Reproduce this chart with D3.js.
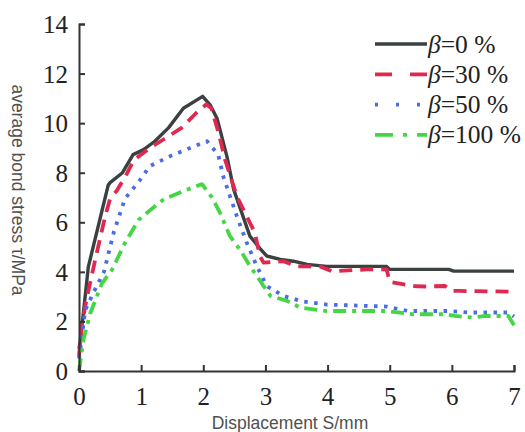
<!DOCTYPE html>
<html><head><meta charset="utf-8">
<script src="https://cdn.jsdelivr.net/npm/d3@7"></script>
<style>body{margin:0;background:#fff;}svg{display:block;}</style>
</head><body>
<script>
const xTicks = [0,1,2,3,4,5,6,7];
const yTicks = [0,2,4,6,8,10,12,14];
const seriesNames = ["0 %","30 %","50 %","100 %"];

const s0X = [0, 0.02, 0.06, 0.15, 0.47, 0.5, 0.7, 0.87, 1.04, 1.22, 1.44, 1.68, 1.99, 2.11, 2.22, 2.27, 2.38, 2.49, 2.62, 2.75, 2.91, 3.02, 3.24, 3.45, 3.67, 3.99, 4.95, 5.0, 5.95, 6.03, 7.0];
const s0Y = [0.9, 1.2, 2.1, 4.2, 7.5, 7.6, 8.0, 8.73, 8.93, 9.27, 9.81, 10.6, 11.08, 10.74, 10.2, 9.73, 8.66, 7.32, 6.38, 5.44, 4.95, 4.64, 4.5, 4.43, 4.3, 4.22, 4.22, 4.1, 4.1, 4.03, 4.03];

const s30X = [0, 0.05, 0.13, 0.26, 0.42, 0.5, 0.61, 0.77, 0.88, 1.14, 1.36, 1.65, 1.89, 2.05, 2.13, 2.24, 2.35, 2.54, 2.75, 2.83, 2.91, 2.97, 3.29, 3.5, 3.88, 4.07, 4.63, 4.95, 5.0, 5.36, 5.57, 5.89, 6.0, 6.11, 7.0];
const s30Y = [0.6, 1.93, 3.0, 4.48, 6.23, 6.95, 7.28, 7.96, 8.5, 9.0, 9.34, 9.81, 10.42, 10.76, 10.6, 9.67, 8.53, 7.05, 5.98, 5.58, 4.64, 4.37, 4.43, 4.22, 4.22, 4.02, 4.1, 4.1, 3.6, 3.43, 3.41, 3.43, 3.23, 3.23, 3.2];

const s50X = [0, 0.02, 0.1, 0.26, 0.4, 0.56, 0.74, 0.98, 1.14, 1.47, 1.79, 2.06, 2.24, 2.32, 2.43, 2.54, 2.7, 2.86, 3.02, 3.29, 3.61, 3.99, 4.95, 5.3, 5.97, 6.27, 6.91, 7.0];
const s50Y = [0.5, 0.85, 2.46, 3.3, 3.99, 5.6, 6.95, 7.7, 8.27, 8.67, 9.0, 9.27, 8.73, 7.86, 7.05, 6.25, 5.17, 4.24, 3.43, 3.03, 2.8, 2.68, 2.6, 2.42, 2.42, 2.36, 2.36, 2.2];

const s100X = [0, 0.07, 0.18, 0.37, 0.53, 0.74, 0.96, 1.15, 1.36, 1.68, 1.98, 2.14, 2.27, 2.43, 2.59, 2.75, 2.97, 3.08, 3.35, 3.56, 3.77, 3.99, 4.95, 5.36, 5.89, 6.05, 6.32, 6.54, 6.91, 7.0];
const s100Y = [0, 1.25, 2.32, 3.54, 4.08, 5.17, 6.1, 6.5, 6.92, 7.26, 7.54, 7.0, 6.38, 5.44, 4.9, 4.24, 3.43, 3.03, 2.83, 2.56, 2.49, 2.42, 2.42, 2.29, 2.29, 2.22, 2.16, 2.22, 2.22, 1.85];

const W = 525, H = 432;
const m = {left: 79, right: 11, top: 24, bottom: 61};

const svg = d3.select("body").append("svg").attr("width", W).attr("height", H);

const x = d3.scaleLinear().domain([0,7]).range([m.left, W - m.right]);
const y = d3.scaleLinear().domain([0,14]).range([H - m.bottom, m.top]);

const series = [
  {name: seriesNames[0], xs: s0X, ys: s0Y, color: "#3b4040", width: 3.4, dash: null, legDash: null},
  {name: seriesNames[1], xs: s30X, ys: s30Y, color: "#e0294f", width: 3.8, dash: "13,8", legDash: "17,18"},
  {name: seriesNames[2], xs: s50X, ys: s50Y, color: "#4a6ce6", width: 3.8, dash: "3.5,6.5", legDash: "3,18"},
  {name: seriesNames[3], xs: s100X, ys: s100Y, color: "#45d645", width: 3.8, dash: "13,6,4,6", legDash: "18,10,4,10"}
];

const line = d3.line().x(d => x(d[0])).y(d => y(d[1]));

const plot = svg.append("g");
series.forEach(s => {
  const pts = s.xs.map((v,i) => [v, s.ys[i]]);
  plot.append("path").datum(pts)
    .attr("d", line)
    .attr("fill","none")
    .attr("stroke", s.color)
    .attr("stroke-width", s.width)
    .attr("stroke-linejoin","round")
    .attr("stroke-dasharray", s.dash);
});

// axes
const serif = "'Liberation Serif','Times New Roman',serif";
const xAxis = d3.axisBottom(x).tickValues(xTicks).tickSize(-6).tickPadding(10).tickFormat(d3.format("d"));
const yAxis = d3.axisLeft(y).tickValues(yTicks).tickSize(-6).tickPadding(11).tickFormat(d3.format("d"));

const gx = svg.append("g").attr("transform", `translate(0,${H - m.bottom})`).call(xAxis);
const gy = svg.append("g").attr("transform", `translate(${m.left},0)`).call(yAxis);
[gx, gy].forEach(g => {
  g.select(".domain").attr("stroke","#333").attr("stroke-width",2);
  g.selectAll(".tick line").attr("stroke","#333").attr("stroke-width",2);
  g.selectAll(".tick text").attr("font-family", serif).attr("font-size", 25).attr("fill","#222");
});
gx.selectAll(".tick text").attr("dy","0.95em");
gy.selectAll(".tick text").attr("dy","0.34em");

// axis titles
const sans = "'Liberation Sans',Arial,sans-serif";
svg.append("text").attr("x", 290).attr("y", 429)
  .attr("text-anchor","middle").attr("font-family", sans).attr("font-size", 17.5).attr("fill","#505050")
  .text("Displacement S/mm");
svg.append("text").attr("transform","translate(12,190) rotate(90)")
  .attr("text-anchor","middle").attr("font-family", sans).attr("font-size", 17.5).attr("fill","#505050")
  .text("average bond stress τ/MPa");

// legend
const leg = svg.append("g");
series.forEach((s,i) => {
  const yy = 44 + i*30.3;
  leg.append("line").attr("x1",375).attr("x2",427).attr("y1",yy).attr("y2",yy)
    .attr("stroke", s.color).attr("stroke-width", s.width).attr("stroke-dasharray", s.legDash);
  const t = leg.append("text").attr("x",428).attr("y",yy+8.5)
    .attr("font-family", serif).attr("font-size", 25.5).attr("fill","#222");
  t.append("tspan").attr("font-style","italic").text("β");
  t.append("tspan").text("=" + s.name);
});
</script>
</body></html>
